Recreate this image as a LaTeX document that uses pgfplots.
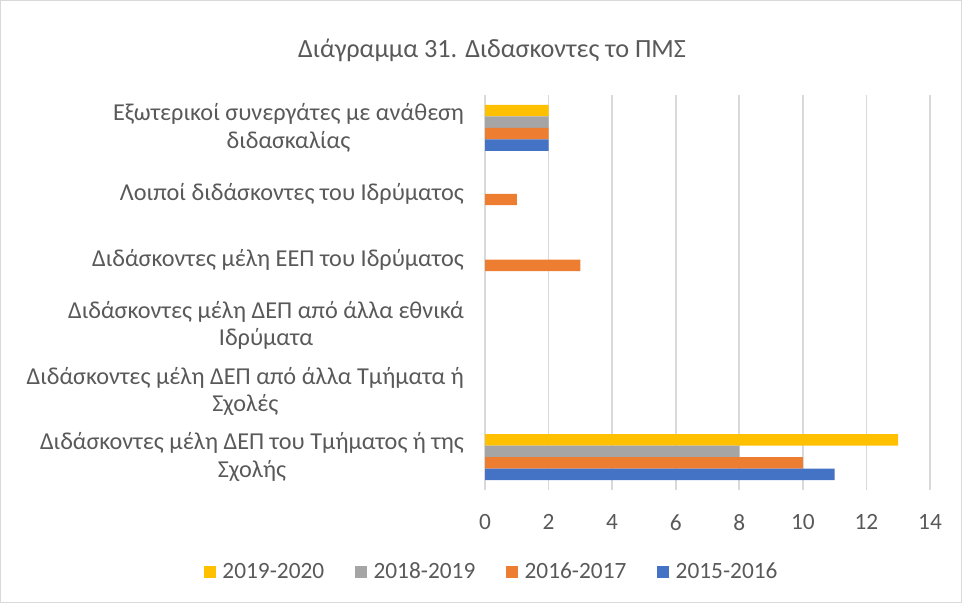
\documentclass[border=0pt]{standalone}
\usepackage{pgfplots}
\pgfplotsset{compat=1.18}
\usepackage{fontspec}
\setmainfont{Carlito}
\definecolor{cblue}{HTML}{4472C4}
\definecolor{corange}{HTML}{ED7D31}
\definecolor{cgray}{HTML}{A5A5A5}
\definecolor{cyellow}{HTML}{FFC000}
\definecolor{txt}{HTML}{595959}
\definecolor{grd}{HTML}{D9D9D9}
\begin{document}
\begin{tikzpicture}
\useasboundingbox (0,0) rectangle (721.5pt,452.25pt);
\draw[grd, line width=0.8pt] (0.5pt,0.5pt) rectangle (721pt,451.75pt);
\node[text=txt, font=\fontsize{19.7}{23.5}\selectfont] at (369pt,414.75pt) {Διάγραμμα 31. Διδασκοντες το ΠΜΣ};
\begin{axis}[
  at={(363.75pt,84.75pt)}, anchor=south west,
  scale only axis, width=333.75pt, height=296.25pt,
  xmin=0, xmax=14, ymin=-0.5, ymax=5.5,
  xtick={0,2,...,14},
  ytick={0,1,2,3,4,5},
  /pgf/number format/assume math mode=true,
  yticklabels={
    {Διδάσκοντες μέλη ΔΕΠ του Τμήματος ή της\\Σχολής},
    {Διδάσκοντες μέλη ΔΕΠ από άλλα Τμήματα ή\\Σχολές},
    {Διδάσκοντες μέλη ΔΕΠ από άλλα εθνικά\\Ιδρύματα},
    {Διδάσκοντες μέλη ΕΕΠ του Ιδρύματος},
    {Λοιποί διδάσκοντες του Ιδρύματος},
    {Εξωτερικοί συνεργάτες με ανάθεση\\διδασκαλίας}},
  yticklabel style={align=center, text=txt, font=\fontsize{18.2}{20.5}\selectfont, xshift=-8pt},
  xticklabel style={text=txt, font=\fontsize{17.5}{20.5}\selectfont, yshift=-15pt},
  axis line style={draw=none},
  tick style={draw=none},
  xmajorgrids, grid style={grd, line width=1.2pt},
  xbar, bar width=8.6pt,
  legend columns=4,
  legend style={at={(0.0157,-0.2076)}, anchor=center, draw=none, fill=none,
    font=\fontsize{17.5}{20.5}\selectfont, text=txt,
    /tikz/every odd column/.append style={column sep=3pt},
    /tikz/every even column/.append style={column sep=21pt}},
  legend image code/.code={\fill[#1] (0pt,-4.5pt) rectangle (9pt,4.5pt);},
]
\addplot[draw=none, fill=cyellow, bar shift=12.9pt] coordinates {(13,0) (2,5)};
\addplot[draw=none, fill=cgray, bar shift=4.3pt] coordinates {(8,0) (2,5)};
\addplot[draw=none, fill=corange, bar shift=-4.3pt] coordinates {(10,0) (3,3) (1,4) (2,5)};
\addplot[draw=none, fill=cblue, bar shift=-12.9pt] coordinates {(11,0) (2,5)};
\legend{2019-2020, 2018-2019, 2016-2017, 2015-2016}
\end{axis}
\end{tikzpicture}
\end{document}
